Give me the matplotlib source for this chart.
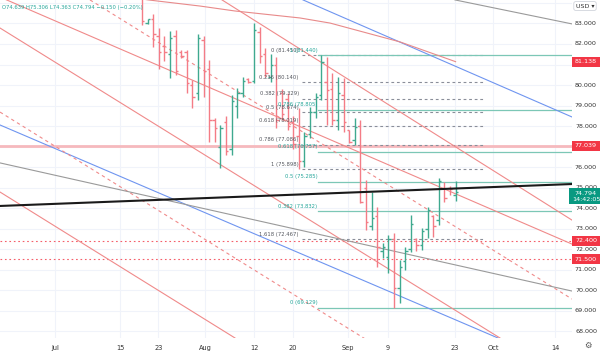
import matplotlib
matplotlib.use("Agg")
import matplotlib.pyplot as plt
from matplotlib.transforms import blended_transform_factory

# ---------------- data ----------------
opens = [84.4, 83.0, 83.2, 82.4, 81.9, 81.5, 82.4, 81.6, 81.6, 80.0,
         79.6, 82.2, 80.8, 78.3, 77.0, 78.2, 76.9, 79.0, 79.6, 80.3,
         80.2, 82.6, 81.5, 80.4, 81.0, 79.6, 79.3, 78.2, 77.5, 76.3,
         77.6, 78.7, 79.5, 80.15, 79.8, 78.3, 79.5, 77.8, 77.3, 78.0,
         75.0, 73.1, 73.6, 71.9, 71.6, 72.5, 70.1, 71.4, 72.0, 72.5,
         72.2, 73.0, 73.6, 73.4, 75.0, 75.0, 74.639]
highs = [84.8, 83.22, 83.46, 82.8, 82.4, 82.63, 82.68, 81.7, 81.7, 80.24,
         82.5, 82.4, 81.2, 78.4, 78.05, 78.5, 79.5, 79.85, 80.4, 80.34,
         83.0, 82.83, 81.8, 81.5, 81.37, 79.8, 79.6, 78.5, 78.9, 77.7,
         78.93, 79.6, 81.45, 81.37, 80.6, 80.4, 80.34, 77.8, 78.4, 78.3,
         75.37, 74.78, 74.05, 72.3, 72.68, 72.78, 71.46, 72.1, 73.66, 72.54,
         73.02, 74.05, 73.66, 75.46, 75.27, 75.05, 75.306]
lows = [82.93, 82.98, 81.85, 80.8, 81.17, 80.34, 80.49, 81.3, 79.6, 78.88,
        79.27, 79.4, 77.2, 77.2, 75.95, 76.6, 76.6, 78.4, 79.4, 80.1,
        80.1, 81.07, 80.4, 80.15, 77.9, 78.3, 77.8, 76.9, 75.898, 76.0,
        77.4, 78.4, 79.27, 78.05, 78.05, 77.8, 77.7, 77.17, 77.07, 74.24,
        72.93, 72.93, 71.12, 71.56, 70.83, 69.129, 69.37, 70.98, 71.85, 71.9,
        71.95, 72.54, 72.59, 73.17, 74.29, 74.63, 74.363]
closes = [83.1, 83.2, 82.5, 81.6, 81.6, 82.3, 80.7, 81.4, 80.1, 79.4,
          82.3, 80.7, 78.3, 77.9, 77.9, 76.8, 79.2, 79.6, 80.2, 80.15,
          82.7, 81.4, 80.6, 81.0, 78.3, 78.6, 78.0, 77.1, 76.3, 77.5,
          78.7, 79.4, 81.1, 79.76, 78.3, 79.6, 78.2, 77.2, 77.95, 74.3,
          73.3, 73.5, 72.1, 72.1, 72.5, 70.1, 71.1, 71.9, 73.2, 72.2,
          72.9, 73.9, 73.1, 75.3, 74.5, 74.944, 74.794]

date_ticks = [-15.5, -3.9, 2.9, 11.25, 20.0, 27.0, 36.8, 43.9, 55.9, 62.7, 73.75]
date_labels = ["Jul", "15", "23", "Aug", "12", "20", "Sep", "9", "23", "Oct", "14"]
price_ticks = [68, 69, 70, 71, 72, 73, 74, 75, 76, 78, 79, 80, 82, 83]

fib1_ratios = ["0", "0.236", "0.382", "0.5", "0.618", "0.786", "1", "1.618"]
fib1_prices = [81.450, 80.140, 79.329, 78.674, 78.019, 77.086, 75.898, 72.467]
fib2_ratios = ["0", "0.382", "0.5", "0.618", "0.786", "1"]
fib2_prices = [69.129, 73.832, 75.285, 76.737, 78.805, 81.440]

level_pink = 77.039
levels_dotted = [72.400, 71.500]
ma_last = 81.138

# moving average anchor points (bar index, price)
ma_idx = [-2.1, 1.1, 10.4, 16.6, 28.2, 33.6, 46.1, 56.0]
ma_val = [84.29, 84.15, 83.85, 83.61, 83.27, 83.02, 82.10, 81.138]

# trend lines: (x0, p0, x1, p1)
blue_lines = [(28.75, 84.15, 76.79, 78.44), (-25.36, 78.05, 63.57, 67.66)]
red_lines = [(14.29, 84.15, 76.79, 73.41), (-25.36, 84.29, 76.79, 72.24),
             (-25.36, 82.78, 63.93, 67.66), (-25.36, 74.78, 16.61, 67.66)]
red_dashed = [(-9.29, 84.15, 76.79, 69.56), (-25.36, 78.68, 40.18, 67.56)]
gray_lines = [(-25.36, 76.20, 76.79, 69.95), (55.89, 84.15, 76.79, 82.98)]
black_line = (-25.36, 74.10, 76.79, 75.17)

# ---------------- style ----------------
RED = "#f47c86"
GREEN = "#3fa98f"
TAG_RED = "#f23645"
TAG_GREEN = "#089981"
TEAL = "#7cc7b6"
GRID = "#f0f3fa"

W, H = 600, 353
fig = plt.figure(figsize=(W / 100, H / 100), dpi=100)
fig.patch.set_facecolor("white")
ax = fig.add_axes([0, 15 / H, 572 / W, 338 / H])
ax.set_xlim(-25.36, 76.79)
ax.set_ylim(67.66, 84.146)
for s in ax.spines.values():
    s.set_visible(False)
ax.set_xticks([])
ax.set_yticks([])

# grid
for p in range(68, 85):
    ax.axhline(p, color=GRID, lw=0.8, zorder=0)
for t in date_ticks:
    ax.axvline(t, color=GRID, lw=0.8, zorder=0)

# horizontal levels
ax.axhline(level_pink, color="#f6b9bd", lw=2.0, zorder=1)
for lv in levels_dotted:
    ax.axhline(lv, color=TAG_RED, lw=0.8, ls=(0, (1.5, 2.5)), alpha=0.8, zorder=1)

# fib 1 (gray dashed)
for r, p in zip(fib1_ratios, fib1_prices):
    ax.plot([28.57, 60.89], [p, p], color="#8a8e99", lw=0.8, ls=(0, (2.5, 2.5)), zorder=2)
    ax.text(28.0, p + 0.12, f"{r} ({p:.3f})", fontsize=3.8, color="#55585f",
            ha="right", va="bottom", zorder=6)

# fib 2 (teal)
for r, p in zip(fib2_ratios, fib2_prices):
    ax.plot([31.43, 76.79], [p, p], color=TEAL, lw=0.9, zorder=2)
    ax.text(31.3, p + 0.12, f"{r} ({p:.3f})", fontsize=3.8, color="#26a69a",
            ha="right", va="bottom", zorder=6)

# trend lines
for x0, p0, x1, p1 in blue_lines:
    ax.plot([x0, x1], [p0, p1], color="#6f95f0", lw=0.8, zorder=2)
for x0, p0, x1, p1 in red_lines:
    ax.plot([x0, x1], [p0, p1], color="#f08a8a", lw=0.8, zorder=2)
for x0, p0, x1, p1 in red_dashed:
    ax.plot([x0, x1], [p0, p1], color="#f08a8a", lw=0.8, ls=(0, (3, 3)), zorder=2)
for x0, p0, x1, p1 in gray_lines:
    ax.plot([x0, x1], [p0, p1], color="#9a9a9a", lw=0.8, zorder=2)
ax.plot([black_line[0], black_line[2]], [black_line[1], black_line[3]],
        color="#1a1a1a", lw=1.5, zorder=4)
ax.plot(ma_idx, ma_val, color="#e88a8a", lw=0.8, zorder=2)

# OHLC bars
for i, (o, h, l, c) in enumerate(zip(opens, highs, lows, closes)):
    col = GREEN if c >= o else RED
    ax.plot([i, i], [l, h], color=col, lw=1.0, zorder=3, solid_capstyle="butt")
    ax.plot([i - 0.42, i], [o, o], color=col, lw=1.0, zorder=3, solid_capstyle="butt")
    ax.plot([i, i + 0.42], [c, c], color=col, lw=1.0, zorder=3, solid_capstyle="butt")

# header
last = len(closes) - 1
chg = closes[last] - closes[last - 1]
pct = chg / closes[last - 1] * 100
hdr = (f"O{opens[last]:.3f} H{highs[last]:.3f} L{lows[last]:.3f} C{closes[last]:.3f} "
       f"\u2212{abs(chg):.3f} (\u2212{abs(pct):.2f}%)")
fig.text(2 / W, 1 - 7 / H, hdr, fontsize=3.8, color="#26a69a", ha="left", va="center")

# x axis labels
for t, lab in zip(date_ticks, date_labels):
    ax.text(t, -0.022, lab, transform=blended_transform_factory(ax.transData, ax.transAxes),
            fontsize=4.8, color="#333333", ha="center", va="top", clip_on=False)

# right price axis
trans_r = blended_transform_factory(fig.transFigure, ax.transData)
for p in price_ticks:
    ax.text(586 / W, p, f"{p:.3f}", transform=trans_r, fontsize=4.6, color="#333333",
            ha="center", va="center", clip_on=False)


def tag(price, text, color):
    ax.text(586 / W, price, text, transform=trans_r, fontsize=4.6, color="white",
            ha="center", va="center", clip_on=False, zorder=10, linespacing=1.3,
            bbox=dict(boxstyle="square,pad=0.4", fc=color, ec="none"))


tag(ma_last, f"{ma_last:.3f}", TAG_RED)
tag(level_pink, f"{level_pink:.3f}", TAG_RED)
for lv in levels_dotted:
    tag(lv, f"{lv:.3f}", TAG_RED)
tag(closes[last] - 0.22, f"{closes[last]:.3f}\n14:42:05", TAG_GREEN)

# USD box and settings icon
fig.text(585 / W, 1 - 6 / H, "USD \u25be", fontsize=4.6, color="#333333", ha="center",
         va="center", bbox=dict(boxstyle="round,pad=0.3", fc="white", ec="#d1d4dc", lw=0.6))
fig.text(588 / W, 8 / H, "\u2699", fontsize=6, color="#555555", ha="center", va="center")

fig.savefig("out.png", dpi=100)
